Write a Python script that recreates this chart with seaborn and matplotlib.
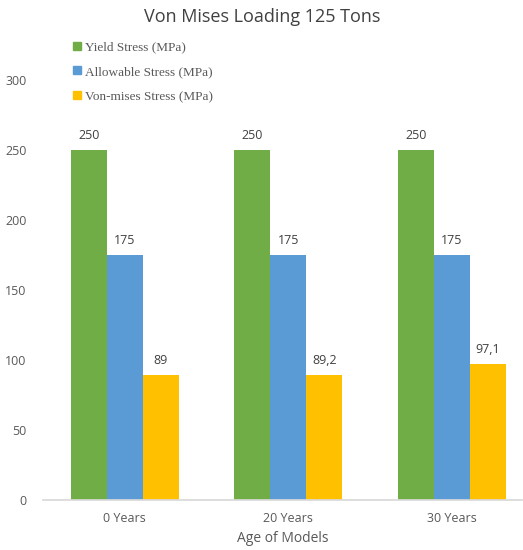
import pandas as pd
import numpy as np
import matplotlib.pyplot as plt
import seaborn as sns

sns.set_theme(style="white")
plt.rcParams['font.family'] = ['Open Sans', 'DejaVu Sans']

# data
ages = ["0 Years", "20 Years", "30 Years"]
series = ["Yield Stress (MPa)", "Allowable Stress (MPa)", "Von-mises Stress (MPa)"]
yield_stress = [250, 250, 250]
allowable_stress = [175, 175, 175]
vonmises_stress = [89, 89.2, 97.1]
label_text = [["250", "250", "250"], ["175", "175", "175"], ["89", "89,2", "97,1"]]
colors = ["#70AD47", "#5B9BD5", "#FFC000"]

df = pd.DataFrame({
    "Age": ages * 3,
    "Series": np.repeat(series, 3),
    "Value": yield_stress + allowable_stress + vonmises_stress,
})

fig = plt.figure(figsize=(5.23, 5.5), dpi=100)
ax = fig.add_axes([43 / 523, 50 / 550, 479 / 523, 420 / 550])

sns.barplot(data=df, x="Age", y="Value", hue="Series", hue_order=series,
            order=ages, palette=colors, width=0.66, gap=0, saturation=1,
            linewidth=0, ax=ax, legend=False)

for cont, labs in zip(ax.containers, label_text):
    ax.bar_label(cont, labels=labs, padding=6, fontsize=9, color="#404040")

ax.set_ylim(0, 300)
ax.set_xlim(-0.5, 2.43)
ax.set_yticks(range(0, 301, 50))
ax.tick_params(axis="y", length=0, labelsize=9, colors="#595959", pad=12)
ax.tick_params(axis="x", length=0, labelsize=9, colors="#595959", pad=9)
ax.set_ylabel("")
ax.set_xlabel("Age of Models", fontsize=10, color="#595959", labelpad=4)
for s in ["top", "right", "left"]:
    ax.spines[s].set_visible(False)
ax.spines["bottom"].set_color("#D9D9D9")

fig.text(0.502, 0.97, "Von Mises Loading 125 Tons", ha="center", va="center",
         fontsize=13, color="#404040")

# legend
handles = [plt.Line2D([], [], marker="s", linestyle="", markersize=6,
                      markerfacecolor=c, markeredgecolor=c) for c in colors]
fig.legend(handles, series, loc="upper left", bbox_to_anchor=(0.125, 0.935),
           frameon=False, prop={"family": "Liberation Serif", "size": 9.5},
           labelcolor="#595959", handletextpad=0.1, labelspacing=0.95,
           handlelength=1.0, borderaxespad=0)

plt.savefig("out.png", dpi=100)
